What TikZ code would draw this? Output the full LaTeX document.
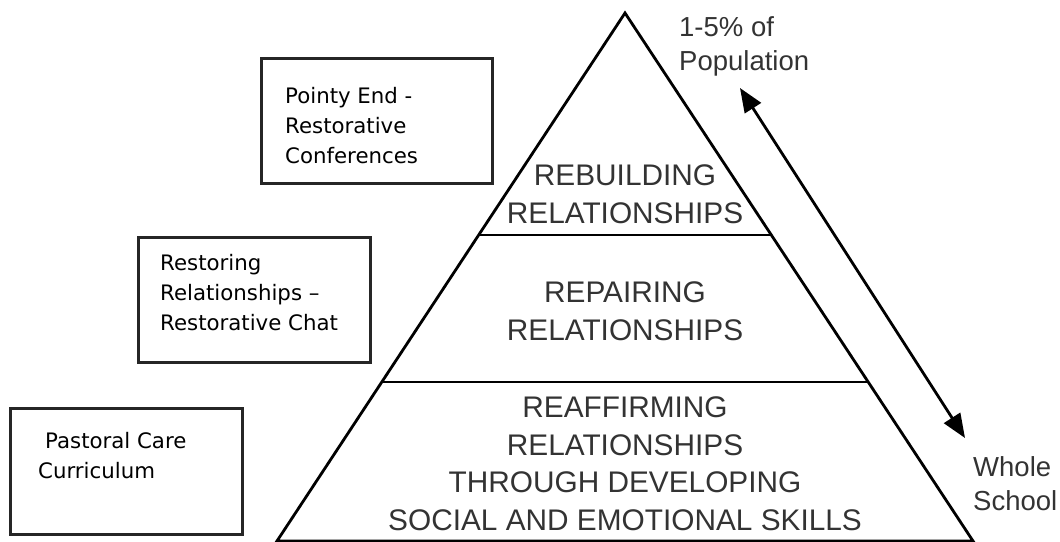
\documentclass[tikz,border=0pt]{standalone}
\usepackage{fontspec}
\setmainfont{Liberation Sans}
\newfontfamily\boxfont{DejaVu Sans}
\usetikzlibrary{arrows.meta}
\definecolor{pyrtext}{HTML}{333333}
\definecolor{boxline}{HTML}{262626}
\tikzset{
  pyrline/.style={line width=2.8pt, black, line join=miter},
  sidebox/.style={draw=boxline, line width=2.8pt},
  boxtext/.style={anchor=base west, align=left, inner sep=0pt,
    font={\boxfont\fontsize{21.3}{30}\selectfont}, text=black},
  pyrtext/.style={anchor=base, align=center, inner sep=0pt,
    font={\fontsize{29.8}{37.5}\selectfont}, text=pyrtext},
  sidelabel/.style={anchor=base west, align=left, inner sep=0pt,
    font={\fontsize{27.5}{34}\selectfont}, text=pyrtext},
  dblarrow/.style={line width=2.8pt, {Triangle[length=24pt,width=19pt]}-{Triangle[length=24pt,width=19pt]}}
}
\begin{document}
\begin{tikzpicture}[x=1pt,y=-1pt]
\useasboundingbox (0,0) rectangle (1060,541);
% pyramid
\coordinate (apex) at (625,13);
\coordinate (bl) at (277,541);
\coordinate (br) at (973,541);
\coordinate (d1l) at (479,235);
\coordinate (d1r) at (771,235);
\coordinate (d2l) at (382,382);
\coordinate (d2r) at (868,382);
\draw[pyrline] (bl) -- (apex) -- (br) -- cycle;
\draw[pyrline] (d1l) -- (d1r);
\draw[pyrline] (d2l) -- (d2r);
% pyramid texts
\node[pyrtext] (t1) at (625,223) {REBUILDING\\RELATIONSHIPS};
\node[pyrtext] (t2) at (625,340) {REPAIRING\\RELATIONSHIPS};
\node[pyrtext] (t3) at (625,530) {REAFFIRMING\\RELATIONSHIPS\\THROUGH DEVELOPING\\SOCIAL AND EMOTIONAL SKILLS};
% side boxes
\node[sidebox, minimum width=231pt, minimum height=125pt, anchor=north west] (b1) at (260,57) {};
\node[sidebox, minimum width=232pt, minimum height=125pt, anchor=north west] (b2) at (137,236) {};
\node[sidebox, minimum width=232pt, minimum height=126pt, anchor=north west] (b3) at (9,407) {};
\node[boxtext] (b1t) at (285,163) {Pointy End -\\Restorative\\Conferences};
\node[boxtext] (b2t) at (160,330) {Restoring\\Relationships –\\Restorative Chat};
\node[boxtext] (b3t) at (38,478) {\hspace*{7pt}Pastoral Care\\Curriculum};
% right labels and arrow
\node[sidelabel] (top) at (679,70) {1-5\% of\\Population};
\node[sidelabel] (bottom) at (973,510) {Whole\\School};
\coordinate (arrtop) at (740,88);
\coordinate (arrbot) at (965,438);
\draw[dblarrow] (arrtop) -- (arrbot);
\end{tikzpicture}
\end{document}
